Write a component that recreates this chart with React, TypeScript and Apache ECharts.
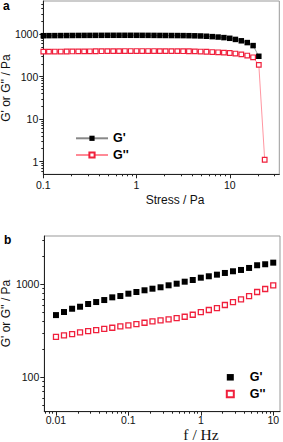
import React, { useEffect, useRef } from "react";
import * as echarts from "echarts";

// ---------- Panel a : stress sweep ----------
const stressA = [
  0.1, 0.115, 0.133, 0.154, 0.178, 0.205, 0.237, 0.274, 0.316, 0.365,
  0.422, 0.487, 0.562, 0.649, 0.75, 0.866, 1.0, 1.15, 1.33, 1.54,
  1.78, 2.05, 2.37, 2.74, 3.16, 3.65, 4.22, 4.87, 5.62, 6.49,
  7.5, 8.66, 10.0, 11.5, 13.3, 15.4, 17.8, 20.5, 23.7,
];
const gPrimeA = [
  915, 918, 920, 922, 924, 926, 928, 930, 931, 932,
  933, 934, 935, 935, 935, 935, 934, 933, 932, 930,
  928, 926, 924, 922, 920, 916, 910, 902, 888, 870,
  850, 825, 795, 748, 694, 630, 535, 300,
];
const gDoublePrimeA = [
  385, 386, 387, 388, 389, 390, 391, 392, 393, 394,
  395, 396, 397, 397, 398, 398, 398, 398, 398, 398,
  397, 397, 396, 396, 395, 394, 391, 387, 383, 377,
  372, 366, 358, 348, 332, 312, 284, 188, 1.1,
];
const minorXA = [0.2, 0.3, 0.4, 0.5, 0.6, 0.7, 0.8, 0.9, 2, 3, 4, 5, 6, 7, 8, 9, 20, 30];
const minorYA = [
  0.6, 0.7, 0.8, 0.9, 2, 3, 4, 5, 6, 7, 8, 9, 20, 30, 40, 50, 60, 70, 80, 90,
  200, 300, 400, 500, 600, 700, 800, 900, 2000, 3000, 4000, 5000,
];

// ---------- Panel b : frequency sweep ----------
const freqB = [
  0.01, 0.0129, 0.0167, 0.0215, 0.0278, 0.0359, 0.0464, 0.0599, 0.0774, 0.1,
  0.129, 0.167, 0.215, 0.278, 0.359, 0.464, 0.599, 0.774, 1.0, 1.29,
  1.67, 2.15, 2.78, 3.59, 4.64, 5.99, 7.74, 10.0,
];
const gPrimeB = [
  468, 505, 548, 576, 616, 647, 680, 727, 751, 796,
  830, 866, 901, 933, 980, 1020, 1072, 1118, 1184, 1226,
  1276, 1331, 1388, 1434, 1507, 1612, 1652, 1719,
];
const gDoublePrimeB = [
  273, 283, 292, 305, 315, 323, 333, 342, 354, 362,
  374, 387, 401, 410, 421, 435, 449, 472, 505, 531,
  557, 601, 647, 692, 751, 830, 894, 980,
];
const minorXB = [
  0.007, 0.008, 0.009, 0.02, 0.03, 0.04, 0.05, 0.06, 0.07, 0.08, 0.09,
  0.2, 0.3, 0.4, 0.5, 0.6, 0.7, 0.8, 0.9, 2, 3, 4, 5, 6, 7, 8, 9,
];
const minorYB = [50, 60, 70, 80, 90, 200, 300, 400, 500, 600, 700, 800, 900, 2000, 3000];

const SANS = "'Liberation Sans', Arial, sans-serif";
const SERIF = "'Liberation Serif', 'Times New Roman', serif";
const AXIS_COLOR = "#222";
const RED = "#f0203c";

const fmt = (v: number) => String(+Number(v).toPrecision(6));

function logAxis(min: number, max: number, showMin: boolean, extra: any = {}, labelMargin = 5) {
  return {
    type: "log",
    logBase: 10,
    min,
    max,
    axisLine: { show: true, onZero: false, lineStyle: { color: AXIS_COLOR, width: 1 } },
    axisTick: { show: true, length: 4, lineStyle: { color: AXIS_COLOR, width: 1 } },
    axisLabel: {
      fontSize: 10.5,
      fontFamily: SANS,
      color: "#111",
      margin: labelMargin,
      showMinLabel: showMin,
      showMaxLabel: false,
      formatter: fmt,
    },
    splitLine: { show: false },
    ...extra,
  };
}

function minorAxis(min: number, max: number, values: number[], position: string) {
  return {
    type: "value",
    position,
    min: Math.log10(min),
    max: Math.log10(max),
    axisLine: { show: false, onZero: false },
    axisLabel: { show: false },
    splitLine: { show: false },
    axisTick: {
      show: true,
      length: 2,
      customValues: values.map((v) => Math.log10(v)),
      lineStyle: { color: AXIS_COLOR, width: 1 },
    },
  };
}

function optionA(): any {
  const xMin = 0.1, xMax = 34, yMin = 0.5, yMax = 6000;
  return {
    animation: false,
    grid: {
      left: 43.3, top: 1, width: 236, height: 173.3,
      show: true, borderColor: "#999", borderWidth: 1, backgroundColor: "transparent",
      containLabel: false,
    },
    xAxis: [
      logAxis(xMin, xMax, true, { position: "bottom" }),
      minorAxis(xMin, xMax, minorXA, "bottom"),
    ],
    yAxis: [
      logAxis(yMin, yMax, false, { position: "left" }),
      minorAxis(yMin, yMax, minorYA, "left"),
    ],
    legend: {
      orient: "vertical",
      left: 70,
      top: 126.3,
      itemWidth: 32,
      itemHeight: 6.5,
      itemGap: 2.7,
      selectedMode: false,
      textStyle: { fontFamily: SANS, fontWeight: "bold", fontSize: 12.5, lineHeight: 14, color: "#000" },
      data: ["G'", "G''"],
    },
    graphic: [
      {
        type: "text", left: 3, top: 0,
        style: { text: "a", font: `bold 12px ${SANS}`, fill: "#000" },
      },
      {
        type: "text", x: 175, y: 200,
        style: { text: "Stress / Pa", font: `12px ${SANS}`, fill: "#111", align: "center", verticalAlign: "middle" },
      },
      {
        type: "text", x: 6, y: 88, rotation: Math.PI / 2,
        style: { text: "G' or G'' / Pa", font: `12px ${SANS}`, fill: "#111", align: "center", verticalAlign: "middle" },
      },
    ],
    series: [
      {
        name: "G'",
        type: "line",
        xAxisIndex: 0,
        yAxisIndex: 0,
        data: stressA.slice(0, gPrimeA.length).map((x, i) => [x, gPrimeA[i]]),
        symbol: "rect",
        symbolSize: 5.5,
        itemStyle: { color: "#000" },
        lineStyle: { color: "#888", width: 0.8 },
        z: 3,
      },
      {
        name: "G''",
        type: "line",
        xAxisIndex: 0,
        yAxisIndex: 0,
        data: stressA.map((x, i) => [x, gDoublePrimeA[i]]),
        symbol: "rect",
        symbolSize: 4.6,
        itemStyle: { color: "#fff", borderColor: RED, borderWidth: 1.2 },
        lineStyle: { color: "#ff8a96", width: 0.9 },
        z: 2,
      },
    ],
  };
}

function optionB(): any {
  const xMin = 0.0069, xMax = 12.4, yMin = 42.6, yMax = 3330;
  return {
    animation: false,
    grid: {
      left: 44.3, top: 16, width: 235.7, height: 175.7,
      show: true, borderColor: "#999", borderWidth: 1, backgroundColor: "transparent",
      containLabel: false,
    },
    xAxis: [
      logAxis(xMin, xMax, false, { position: "bottom" }, 3),
      minorAxis(xMin, xMax, minorXB, "bottom"),
    ],
    yAxis: [
      logAxis(yMin, yMax, false, { position: "left" }),
      minorAxis(yMin, yMax, minorYB, "left"),
    ],
    legend: {
      orient: "vertical",
      left: 220.8,
      top: 145.3,
      itemWidth: 7,
      itemHeight: 6.5,
      itemGap: 2.7,
      selectedMode: false,
      textStyle: {
        fontFamily: SANS, fontWeight: "bold", fontSize: 12.5, lineHeight: 14, color: "#000",
        padding: [0, 0, 0, 11],
      },
      data: ["G'", "G''"],
    },
    graphic: [
      {
        type: "text", left: 4, top: 14,
        style: { text: "b", font: `bold 12px ${SANS}`, fill: "#000" },
      },
      {
        type: "text", x: 201, y: 214.5,
        style: { text: "f / Hz", font: `15.5px ${SERIF}`, fill: "#111", align: "center", verticalAlign: "middle" },
      },
      {
        type: "text", x: 6, y: 93.5, rotation: Math.PI / 2,
        style: { text: "G' or G'' / Pa", font: `12px ${SANS}`, fill: "#111", align: "center", verticalAlign: "middle" },
      },
    ],
    series: [
      {
        name: "G'",
        type: "scatter",
        xAxisIndex: 0,
        yAxisIndex: 0,
        data: freqB.map((x, i) => [x, gPrimeB[i]]),
        symbol: "rect",
        symbolSize: 6,
        itemStyle: { color: "#000", opacity: 1 },
      },
      {
        name: "G''",
        type: "scatter",
        xAxisIndex: 0,
        yAxisIndex: 0,
        data: freqB.map((x, i) => [x, gDoublePrimeB[i]]),
        symbol: "rect",
        symbolSize: 5,
        itemStyle: { color: "#fff", borderColor: RED, borderWidth: 1.3, opacity: 1 },
      },
    ],
  };
}

function Chart({ top, height, option }: { top: number; height: number; option: any }) {
  const ref = useRef<HTMLDivElement>(null);
  useEffect(() => {
    if (!ref.current) return;
    const chart = echarts.init(ref.current, undefined, { renderer: "svg" });
    chart.setOption(option);
    return () => chart.dispose();
  }, []);
  return (
    <div
      ref={ref}
      style={{ position: "absolute", left: 0, top, width: 283, height }}
    />
  );
}

export default function App() {
  return (
    <div style={{ position: "absolute", left: 0, top: 0, width: 283, height: 442, background: "#fff" }}>
      <Chart top={0} height={220} option={optionA()} />
      <Chart top={220} height={222} option={optionB()} />
    </div>
  );
}
